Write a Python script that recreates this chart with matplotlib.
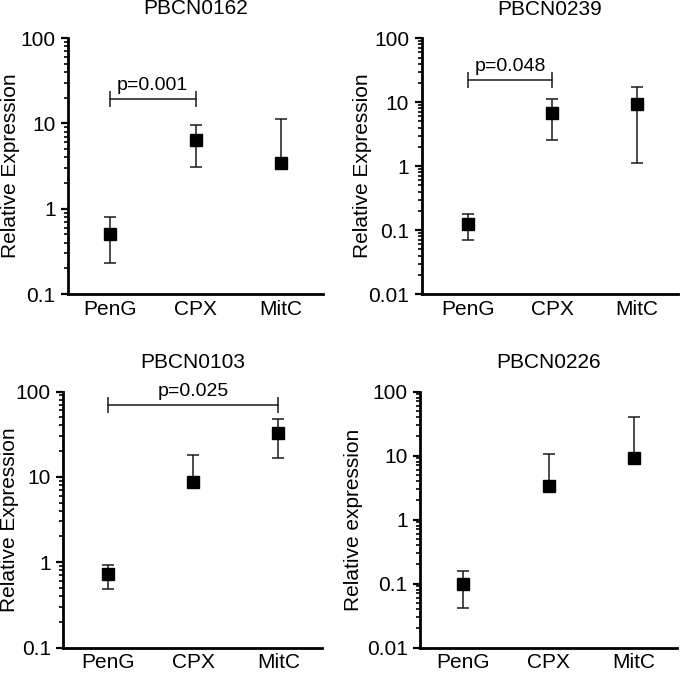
import matplotlib
matplotlib.use("Agg")
import matplotlib.pyplot as plt
from matplotlib.ticker import LogLocator, FuncFormatter, NullFormatter
import numpy as np

plt.rcParams['font.family'] = ['Liberation Sans', 'DejaVu Sans']

categories = ["PenG", "CPX", "MitC"]

titles = ["PBCN0162", "PBCN0239", "PBCN0103", "PBCN0226"]
ylabels = ["Relative Expression", "Relative Expression", "Relative Expression", "Relative expression"]

# mean, upper end of error bar, lower end of error bar (None = hidden)
p1_mean = [0.51, 6.3, 3.4]
p1_upper = [0.79, 9.6, 11.2]
p1_lower = [0.232, 3.1, None]

p2_mean = [0.123, 6.85, 9.3]
p2_upper = [0.176, 11.2, 17.1]
p2_lower = [0.070, 2.53, 1.13]

p3_mean = [0.72, 8.6, 32.3]
p3_upper = [0.92, 17.8, 48.0]
p3_lower = [0.49, None, 16.6]

p4_mean = [0.100, 3.31, 9.04]
p4_upper = [0.155, 10.6, 39.4]
p4_lower = [0.041, None, None]

ylims = [(0.1, 100), (0.01, 100), (0.1, 100), (0.01, 100)]

# significance brackets: (from index, to index, y level, label)
brackets = [(0, 1, 19.1, "p=0.001"), (0, 1, 22.0, "p=0.048"), (0, 2, 69.0, "p=0.025"), None]

means = [p1_mean, p2_mean, p3_mean, p4_mean]
uppers = [p1_upper, p2_upper, p3_upper, p4_upper]
lowers = [p1_lower, p2_lower, p3_lower, p4_lower]

W, H = 680, 674
fig = plt.figure(figsize=(W / 100, H / 100), dpi=100)

# axes boxes in pixels: left spine x, right end x, top y (of ymax), bottom y (of ymin); xlim
boxes = [
    (68, 323, 38, 294, (-0.49, 2.49)),
    (421.7, 678, 38.3, 294, (-0.544, 2.49)),
    (63.3, 321.7, 391.5, 647.5, (-0.53, 2.51)),
    (420, 677, 391.5, 647.5, (-0.5, 2.50)),
]
ylabel_x = [-0.188, -0.193, -0.172, -0.222]

for i in range(4):
    l, r, t, b, xl = boxes[i]
    ax = fig.add_axes([l / W, (H - b) / H, (r - l) / W, (b - t) / H])
    ax.set_yscale('log')
    ax.set_ylim(*ylims[i])
    ax.set_xlim(*xl)
    x = np.arange(len(categories))
    m = np.array(means[i])
    up = np.array(uppers[i])
    lo = np.array([v if v is not None else mv for v, mv in zip(lowers[i], m)])
    ax.errorbar(x, m, yerr=np.vstack([m - lo, up - m]),
                fmt='none', ecolor='#1a1a1a', elinewidth=1.1, capsize=4.5,
                capthick=1.1, zorder=2)
    ax.plot(x, m, linestyle='none', marker='s', markersize=8, color='black', zorder=3)

    br = brackets[i]
    if br is not None:
        a, c, yv, lab = br
        ax.plot([x[a], x[c]], [yv, yv], color='#1a1a1a', lw=1.1, marker='|',
                markersize=12, markeredgewidth=1.1)
        ax.annotate(lab, xy=((x[a] + x[c]) / 2, yv), xytext=(0, 4),
                    textcoords='offset points', ha='center', va='bottom', fontsize=14)

    for s in ['top', 'right']:
        ax.spines[s].set_visible(False)
    for s in ['left', 'bottom']:
        ax.spines[s].set_linewidth(2.0)

    ax.set_xticks(x)
    ax.set_xticklabels(categories, fontsize=15)
    ax.tick_params(axis='x', length=0, pad=4)
    ax.yaxis.set_major_locator(LogLocator(base=10, numticks=10))
    ax.yaxis.set_minor_locator(LogLocator(base=10, subs=np.arange(2, 10), numticks=10))
    ax.yaxis.set_major_formatter(FuncFormatter(lambda v, p: '%g' % v))
    ax.yaxis.set_minor_formatter(NullFormatter())
    ax.tick_params(axis='y', which='major', length=5, width=1.6, labelsize=15, pad=4)
    ax.tick_params(axis='y', which='minor', length=3, width=1.2)

    ax.set_title(titles[i], fontsize=15, pad=17)
    ax.set_ylabel(ylabels[i], fontsize=15)
    ax.yaxis.set_label_coords(ylabel_x[i], 0.5)

fig.savefig("out.png", dpi=100)
